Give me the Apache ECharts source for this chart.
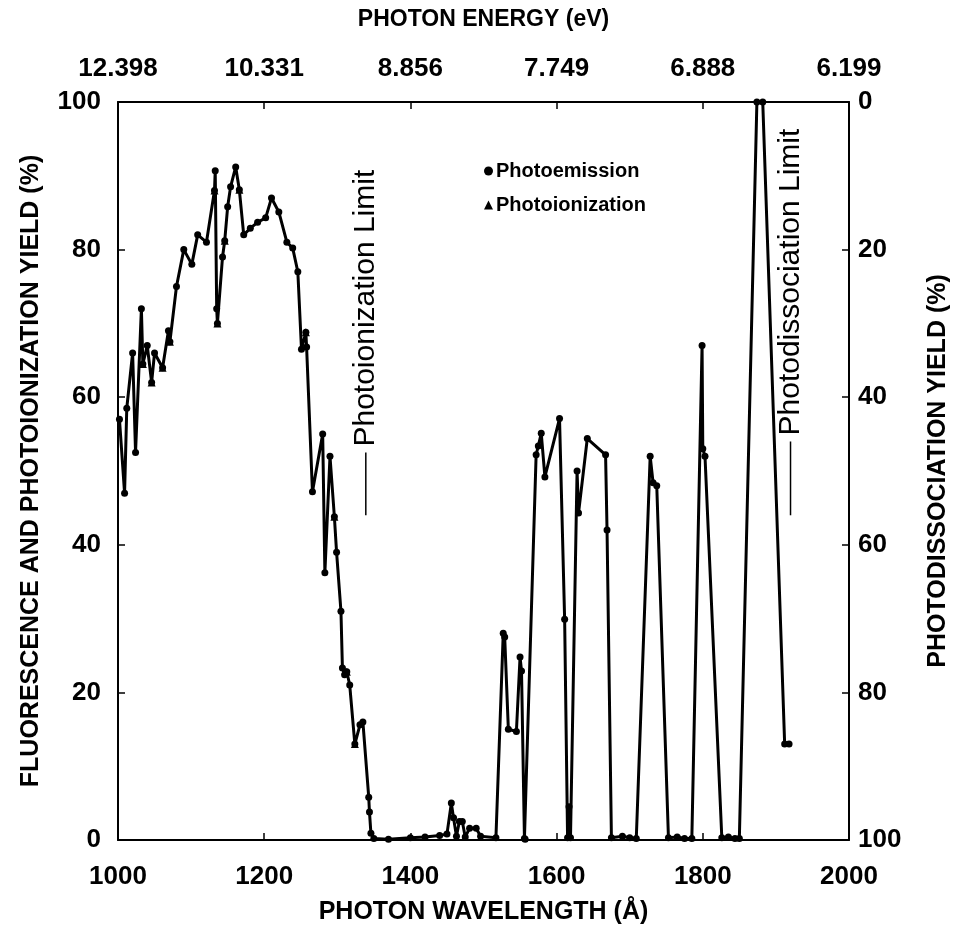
<!DOCTYPE html>
<html>
<head>
<meta charset="utf-8">
<script src="https://cdn.jsdelivr.net/npm/echarts@6/dist/echarts.min.js"></script>
<style>
  html, body { margin: 0; padding: 0; background: #fff; }
  #main { width: 955px; height: 940px; }
</style>
</head>
<body>
<div id="main"></div>
<script>
// ---- Data ----
// Photoemission (fluorescence) yield, % vs photon wavelength (Å)
const emissionWavelength = [
  1002, 1009, 1012, 1020, 1024, 1032, 1034, 1040, 1046, 1050,
  1061, 1069, 1071, 1080, 1090, 1101, 1109, 1121, 1132, 1133,
  1135, 1136, 1143, 1146, 1150, 1154, 1161, 1166, 1172, 1181,
  1191, 1202, 1210, 1220, 1231, 1239, 1246, 1251, 1257, 1258,
  1266, 1280, 1283, 1290, 1296, 1299, 1305, 1307, 1310, 1313,
  1317, 1324, 1331, 1335, 1343, 1344, 1346, 1350, 1370, 1400,
  1420, 1440, 1450, 1456, 1459, 1463, 1467, 1471, 1475, 1481,
  1490, 1496, 1517, 1527, 1529, 1534, 1545, 1550, 1552, 1556,
  1557, 1572, 1575, 1579, 1584, 1604, 1611, 1615, 1617, 1619,
  1628, 1630, 1642, 1667, 1669, 1675, 1690, 1700, 1709, 1728,
  1732, 1737, 1753, 1765, 1775, 1785, 1799, 1800, 1803, 1826,
  1835, 1844, 1850, 1874, 1882, 1912, 1918
];
const emissionYield = [
  57, 47, 58.5, 66, 52.5, 72, 64.5, 67, 62, 66,
  64, 69, 67.5, 75, 80, 78, 82, 81, 88, 90.7,
  72, 70, 79, 81.2, 85.8, 88.5, 91.2, 88.1, 82, 82.9,
  83.7, 84.3, 87, 85.1, 81, 80.2, 77, 66.5, 68.8, 66.8,
  47.2, 55, 36.2, 52, 43.8, 39, 31, 23.3, 22.4, 22.8,
  21, 13, 15.6, 16, 5.8, 3.8, 0.9, 0.2, 0.1, 0.3,
  0.4, 0.6, 0.8, 5, 3, 0.5, 2.5, 2.5, 0.4, 1.6,
  1.6, 0.5, 0.3, 28, 27.5, 15, 14.7, 24.8, 22.9, 0.2,
  0.1, 52.2, 53.4, 55.1, 49.2, 57.1, 29.9, 0.3, 4.5, 0.3,
  50, 44.3, 54.4, 52.2, 42, 0.3, 0.5, 0.3, 0.2, 52,
  48.4, 48, 0.3, 0.4, 0.2, 0.2, 67, 53, 52, 0.3,
  0.4, 0.2, 0.2, 100, 100, 13, 13
];
// Photoionization yield, % (triangle points, overlapping the left part)
const ionizationWavelength = [1034, 1046, 1061, 1071, 1132, 1136, 1146, 1166, 1257, 1296, 1313, 1324];
const ionizationYield      = [64.5, 62, 64, 67.5, 88, 70, 81.2, 88.1, 68.8, 43.8, 22.8, 13];

// Axis ticks / labels
const bottomTicks = [1000, 1200, 1400, 1600, 1800, 2000];
const topTickLabels = ['12.398', '10.331', '8.856', '7.749', '6.888', '6.199'];
const leftTicks = [0, 20, 40, 60, 80, 100];
const rightTicks = [0, 20, 40, 60, 80, 100];

// Annotations (vertical limit markers)
const limitWavelength = [1339, 1920];
const limitLabel = ['Photoionization Limit', 'Photodissociation Limit'];
const limitLineFrom = [44, 44];
const limitLineTo = [52.5, 54];

// ---- Chart ----
const FONT = 'Liberation Sans';
const chart = echarts.init(document.getElementById('main'), null, { renderer: 'canvas' });

function pairs(xs, ys) { return xs.map((x, i) => [x, ys[i]]); }

const axisLine = { show: true, lineStyle: { color: '#000', width: 2 } };
const axisTick = { show: true, inside: true, length: 7, lineStyle: { color: '#000', width: 1.5 } };
const tickFont = { fontFamily: FONT, fontSize: 26, fontWeight: 'bold', color: '#000' };
const titleFont = { fontFamily: FONT, fontSize: 25, fontWeight: 'bold', color: '#000' };

const option = {
  animation: false,
  backgroundColor: '#fff',
  textStyle: { fontFamily: FONT, color: '#000' },
  grid: { left: 118, right: 106, top: 102, bottom: 100, containLabel: false, outerBoundsMode: 'none' },
  legend: {
    orient: 'vertical',
    left: 479,
    top: 156,
    itemGap: 14,
    itemWidth: 9,
    itemHeight: 9,
    textStyle: { fontFamily: FONT, fontSize: 20, color: '#000', fontWeight: 'bold', padding: [0, 0, 0, -2] },
    data: [
      { name: 'Photoemission', icon: 'circle' },
      { name: 'Photoionization', icon: 'triangle' }
    ]
  },
  xAxis: [
    {
      type: 'value', position: 'bottom', min: bottomTicks[0], max: bottomTicks[bottomTicks.length - 1], interval: 200,
      name: 'PHOTON WAVELENGTH (Å)', nameLocation: 'middle', nameGap: 60,
      nameTextStyle: titleFont,
      axisLine: axisLine, axisTick: axisTick, splitLine: { show: false },
      axisLabel: Object.assign({ margin: 24, formatter: function (v) { return String(v); } }, tickFont)
    },
    {
      type: 'value', position: 'top', min: bottomTicks[0], max: bottomTicks[bottomTicks.length - 1], interval: 200,
      name: 'PHOTON ENERGY (eV)', nameLocation: 'middle', nameGap: 71,
      nameTextStyle: Object.assign({}, titleFont, { fontSize: 23 }),
      axisLine: axisLine, axisTick: axisTick, splitLine: { show: false },
      axisLabel: Object.assign({
        margin: 20,
        formatter: function (v) { return topTickLabels[bottomTicks.indexOf(v)] || ''; }
      }, tickFont)
    }
  ],
  yAxis: [
    {
      type: 'value', position: 'left', min: leftTicks[0], max: leftTicks[leftTicks.length - 1], interval: 20,
      name: 'FLUORESCENCE AND PHOTOIONIZATION YIELD (%)', nameLocation: 'middle', nameGap: 74, nameRotate: 90,
      nameTextStyle: titleFont,
      axisLine: axisLine, axisTick: axisTick, splitLine: { show: false },
      axisLabel: Object.assign({ margin: 17 }, tickFont)
    },
    {
      type: 'value', position: 'right', inverse: true, min: rightTicks[0], max: rightTicks[rightTicks.length - 1], interval: 20,
      name: 'PHOTODISSOCIATION YIELD (%)', nameLocation: 'middle', nameGap: 77, nameRotate: 90,
      nameTextStyle: titleFont,
      axisLine: axisLine, axisTick: axisTick, splitLine: { show: false },
      axisLabel: Object.assign({ margin: 9 }, tickFont)
    }
  ],
  series: [
    {
      name: 'Photoemission', type: 'line', xAxisIndex: 0, yAxisIndex: 0,
      data: pairs(emissionWavelength, emissionYield),
      symbol: 'circle', symbolSize: 7, showSymbol: true,
      lineStyle: { color: '#000', width: 3 },
      itemStyle: { color: '#000' },
      z: 3
    },
    {
      name: 'Photoionization', type: 'line', xAxisIndex: 0, yAxisIndex: 0,
      data: pairs(ionizationWavelength, ionizationYield),
      symbol: 'triangle', symbolSize: 8,
      lineStyle: { width: 0, opacity: 0 },
      itemStyle: { color: '#000' },
      z: 4
    }
  ]
};
chart.setOption(option);

// Limit annotations placed through the chart's own coordinate conversion
const graphics = [];
limitWavelength.forEach(function (wl, i) {
  const a = chart.convertToPixel({ seriesIndex: 0 }, [wl, limitLineFrom[i]]);
  const b = chart.convertToPixel({ seriesIndex: 0 }, [wl, limitLineTo[i]]);
  graphics.push({
    type: 'line', shape: { x1: a[0], y1: a[1], x2: b[0], y2: b[1] },
    style: { stroke: '#000', lineWidth: 1.5 }, z: 10
  });
  graphics.push({
    type: 'text', x: b[0], y: b[1] - 6, rotation: Math.PI / 2,
    style: {
      text: limitLabel[i], fill: '#000', font: '30px "' + FONT + '"',
      textAlign: 'left', textVerticalAlign: 'middle'
    }, z: 10
  });
});
chart.setOption({ graphic: graphics });
</script>
</body>
</html>
